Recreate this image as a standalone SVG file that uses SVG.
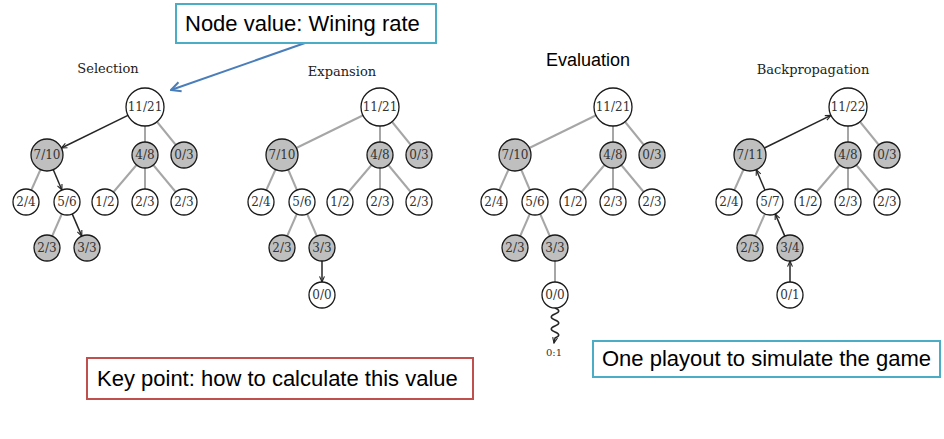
<svg xmlns="http://www.w3.org/2000/svg" width="944" height="439" viewBox="0 0 944 439">
<style>
.e{stroke:#a6a6a6;stroke-width:2;fill:none}
.a{stroke:#262626;stroke-width:1.5;fill:none;marker-end:url(#ah)}
.n circle{stroke:#1a1a1a;stroke-width:1.3;fill:#fff}
.g circle{fill:#bfbfbf}
.n text{font-family:"DejaVu Serif",serif;font-size:12px;fill:#333;text-anchor:middle}
.t{font-family:"DejaVu Serif",serif;font-size:13px;fill:#222;text-anchor:middle}
.box{fill:#fff;stroke-width:2}
.bt{font-family:"Liberation Sans",Arial,sans-serif;font-size:22px;fill:#000}
</style>
<defs>
<marker id="ah" viewBox="0 0 10 10" refX="9" refY="5" markerWidth="7" markerHeight="7" markerUnits="userSpaceOnUse" orient="auto"><path d="M1,1.5 L9,5 L1,8.5" fill="none" stroke="#262626" stroke-width="1.6"/></marker>
<marker id="bh" viewBox="0 0 10 10" refX="9" refY="5" markerWidth="12" markerHeight="12" markerUnits="userSpaceOnUse" orient="auto"><path d="M1,1 L9,5 L1,9" fill="none" stroke="#4a7ebb" stroke-width="1.7"/></marker>
</defs>

<text class="t" x="108" y="73">Selection</text>
<text class="t" x="342" y="76">Expansion</text>
<text x="588" y="66" font-family="Liberation Sans, Arial, sans-serif" font-size="18" fill="#000" text-anchor="middle">Evaluation</text>
<text class="t" x="813" y="74">Backpropagation</text>

<g id="connectors">
 <g transform="translate(0,0)">
  <line class="e" x1="145" y1="107" x2="145" y2="155"/>
  <line class="e" x1="145" y1="107" x2="184" y2="155"/>
  <line class="e" x1="47" y1="155" x2="26" y2="202"/>
  <line class="e" x1="145" y1="155" x2="105" y2="202"/>
  <line class="e" x1="145" y1="155" x2="145" y2="202"/>
  <line class="e" x1="145" y1="155" x2="184" y2="202"/>
  <line class="e" x1="67" y1="202" x2="47" y2="248"/>
  <line class="a" x1="127.9" y1="115.4" x2="61.4" y2="148"/>
  <line class="a" x1="53.3" y1="169.7" x2="61.9" y2="190"/>
  <line class="a" x1="72.2" y1="213.9" x2="81.8" y2="236.1"/>
 </g>
 <g transform="translate(235,0)">
  <line class="e" x1="145" y1="107" x2="47" y2="155"/>
  <line class="e" x1="145" y1="107" x2="145" y2="155"/>
  <line class="e" x1="145" y1="107" x2="184" y2="155"/>
  <line class="e" x1="47" y1="155" x2="26" y2="202"/>
  <line class="e" x1="47" y1="155" x2="67" y2="202"/>
  <line class="e" x1="145" y1="155" x2="105" y2="202"/>
  <line class="e" x1="145" y1="155" x2="145" y2="202"/>
  <line class="e" x1="145" y1="155" x2="184" y2="202"/>
  <line class="e" x1="67" y1="202" x2="47" y2="248"/>
  <line class="e" x1="67" y1="202" x2="87" y2="248"/>
  <line class="a" x1="87" y1="261" x2="87" y2="282"/>
 </g>
 <g transform="translate(468,0)">
  <line class="e" x1="145" y1="107" x2="47" y2="155"/>
  <line class="e" x1="145" y1="107" x2="145" y2="155"/>
  <line class="e" x1="145" y1="107" x2="184" y2="155"/>
  <line class="e" x1="47" y1="155" x2="26" y2="202"/>
  <line class="e" x1="47" y1="155" x2="67" y2="202"/>
  <line class="e" x1="145" y1="155" x2="105" y2="202"/>
  <line class="e" x1="145" y1="155" x2="145" y2="202"/>
  <line class="e" x1="145" y1="155" x2="184" y2="202"/>
  <line class="e" x1="67" y1="202" x2="47" y2="248"/>
  <line class="e" x1="67" y1="202" x2="87" y2="248"/>
  <line class="e" x1="87" y1="248" x2="87" y2="295"/>
  <path class="a" d="M87,308 c5,2 5,4 0,6 c-5,2 -5,4 0,6 c5,2 5,4 0,6 c-5,2 -5,4 0,6 c5,2 5,4 0,6 l-1,5"/>
 </g>
 <g transform="translate(703,0)">
  <line class="e" x1="145" y1="107" x2="145" y2="155"/>
  <line class="e" x1="145" y1="107" x2="184" y2="155"/>
  <line class="e" x1="47" y1="155" x2="26" y2="202"/>
  <line class="e" x1="145" y1="155" x2="105" y2="202"/>
  <line class="e" x1="145" y1="155" x2="145" y2="202"/>
  <line class="e" x1="145" y1="155" x2="184" y2="202"/>
  <line class="e" x1="67" y1="202" x2="47" y2="248"/>
  <line class="a" x1="61.4" y1="148" x2="127.9" y2="115.4"/>
  <line class="a" x1="61.9" y1="190" x2="53.3" y2="169.7"/>
  <line class="a" x1="81.8" y1="236.1" x2="72.2" y2="213.9"/>
  <line class="a" x1="87" y1="282" x2="87" y2="261"/>
 </g>
 <line x1="305" y1="43" x2="171" y2="90" stroke="#4a7ebb" stroke-width="2" marker-end="url(#bh)"/>
</g>

<g id="tree-selection">
 <g id="sel-r" class="n"><circle cx="145" cy="107" r="19"/><text x="145" y="111">11/21</text></g>
 <g id="sel-a" class="n g"><circle cx="47" cy="155" r="16"/><text x="47" y="159">7/10</text></g>
 <g id="sel-b" class="n g"><circle cx="145" cy="155" r="13"/><text x="145" y="159">4/8</text></g>
 <g id="sel-c" class="n g"><circle cx="184" cy="155" r="13"/><text x="184" y="159">0/3</text></g>
 <g id="sel-d" class="n"><circle cx="26" cy="202" r="13"/><text x="26" y="206">2/4</text></g>
 <g id="sel-e" class="n"><circle cx="67" cy="202" r="13"/><text x="67" y="206">5/6</text></g>
 <g id="sel-f" class="n"><circle cx="105" cy="202" r="13"/><text x="105" y="206">1/2</text></g>
 <g id="sel-g" class="n"><circle cx="145" cy="202" r="13"/><text x="145" y="206">2/3</text></g>
 <g id="sel-h" class="n"><circle cx="184" cy="202" r="13"/><text x="184" y="206">2/3</text></g>
 <g id="sel-i" class="n g"><circle cx="47" cy="248" r="13"/><text x="47" y="252">2/3</text></g>
 <g id="sel-j" class="n g"><circle cx="87" cy="248" r="13"/><text x="87" y="252">3/3</text></g>
</g>

<g id="tree-expansion" transform="translate(235,0)">
 <g id="exp-r" class="n"><circle cx="145" cy="107" r="19"/><text x="145" y="111">11/21</text></g>
 <g id="exp-a" class="n g"><circle cx="47" cy="155" r="16"/><text x="47" y="159">7/10</text></g>
 <g id="exp-b" class="n g"><circle cx="145" cy="155" r="13"/><text x="145" y="159">4/8</text></g>
 <g id="exp-c" class="n g"><circle cx="184" cy="155" r="13"/><text x="184" y="159">0/3</text></g>
 <g id="exp-d" class="n"><circle cx="26" cy="202" r="13"/><text x="26" y="206">2/4</text></g>
 <g id="exp-e" class="n"><circle cx="67" cy="202" r="13"/><text x="67" y="206">5/6</text></g>
 <g id="exp-f" class="n"><circle cx="105" cy="202" r="13"/><text x="105" y="206">1/2</text></g>
 <g id="exp-g" class="n"><circle cx="145" cy="202" r="13"/><text x="145" y="206">2/3</text></g>
 <g id="exp-h" class="n"><circle cx="184" cy="202" r="13"/><text x="184" y="206">2/3</text></g>
 <g id="exp-i" class="n g"><circle cx="47" cy="248" r="13"/><text x="47" y="252">2/3</text></g>
 <g id="exp-j" class="n g"><circle cx="87" cy="248" r="13"/><text x="87" y="252">3/3</text></g>
 <g id="exp-k" class="n"><circle cx="87" cy="295" r="13"/><text x="87" y="299">0/0</text></g>
</g>

<g id="tree-evaluation" transform="translate(468,0)">
 <g id="eva-r" class="n"><circle cx="145" cy="107" r="19"/><text x="145" y="111">11/21</text></g>
 <g id="eva-a" class="n g"><circle cx="47" cy="155" r="16"/><text x="47" y="159">7/10</text></g>
 <g id="eva-b" class="n g"><circle cx="145" cy="155" r="13"/><text x="145" y="159">4/8</text></g>
 <g id="eva-c" class="n g"><circle cx="184" cy="155" r="13"/><text x="184" y="159">0/3</text></g>
 <g id="eva-d" class="n"><circle cx="26" cy="202" r="13"/><text x="26" y="206">2/4</text></g>
 <g id="eva-e" class="n"><circle cx="67" cy="202" r="13"/><text x="67" y="206">5/6</text></g>
 <g id="eva-f" class="n"><circle cx="105" cy="202" r="13"/><text x="105" y="206">1/2</text></g>
 <g id="eva-g" class="n"><circle cx="145" cy="202" r="13"/><text x="145" y="206">2/3</text></g>
 <g id="eva-h" class="n"><circle cx="184" cy="202" r="13"/><text x="184" y="206">2/3</text></g>
 <g id="eva-i" class="n g"><circle cx="47" cy="248" r="13"/><text x="47" y="252">2/3</text></g>
 <g id="eva-j" class="n g"><circle cx="87" cy="248" r="13"/><text x="87" y="252">3/3</text></g>
 <g id="eva-k" class="n"><circle cx="87" cy="295" r="13"/><text x="87" y="299">0/0</text></g>
 <g id="eva-result"><text x="86" y="356" font-family="DejaVu Serif, serif" font-size="10" fill="#333" text-anchor="middle">0:1</text></g>
</g>

<g id="tree-backprop" transform="translate(703,0)">
 <g id="bp-r" class="n"><circle cx="145" cy="107" r="19"/><text x="145" y="111">11/22</text></g>
 <g id="bp-a" class="n g"><circle cx="47" cy="155" r="16"/><text x="47" y="159">7/11</text></g>
 <g id="bp-b" class="n g"><circle cx="145" cy="155" r="13"/><text x="145" y="159">4/8</text></g>
 <g id="bp-c" class="n g"><circle cx="184" cy="155" r="13"/><text x="184" y="159">0/3</text></g>
 <g id="bp-d" class="n"><circle cx="26" cy="202" r="13"/><text x="26" y="206">2/4</text></g>
 <g id="bp-e" class="n"><circle cx="67" cy="202" r="13"/><text x="67" y="206">5/7</text></g>
 <g id="bp-f" class="n"><circle cx="105" cy="202" r="13"/><text x="105" y="206">1/2</text></g>
 <g id="bp-g" class="n"><circle cx="145" cy="202" r="13"/><text x="145" y="206">2/3</text></g>
 <g id="bp-h" class="n"><circle cx="184" cy="202" r="13"/><text x="184" y="206">2/3</text></g>
 <g id="bp-i" class="n g"><circle cx="47" cy="248" r="13"/><text x="47" y="252">2/3</text></g>
 <g id="bp-j" class="n g"><circle cx="87" cy="248" r="13"/><text x="87" y="252">3/4</text></g>
 <g id="bp-k" class="n"><circle cx="87" cy="295" r="13"/><text x="87" y="299">0/1</text></g>
</g>

<g id="note-value">
 <rect class="box" x="176" y="4" width="260" height="39" stroke="#4bacc6"/>
 <text class="bt" x="185" y="31">Node value: Wining rate</text>
</g>
<g id="note-key">
 <rect class="box" x="87" y="358" width="386" height="41" stroke="#c0504d"/>
 <text class="bt" x="97" y="386">Key point: how to calculate this value</text>
</g>
<g id="note-playout">
 <rect class="box" x="593" y="341" width="347" height="36" stroke="#4bacc6"/>
 <text class="bt" x="602" y="366">One playout to simulate the game</text>
</g>
</svg>
